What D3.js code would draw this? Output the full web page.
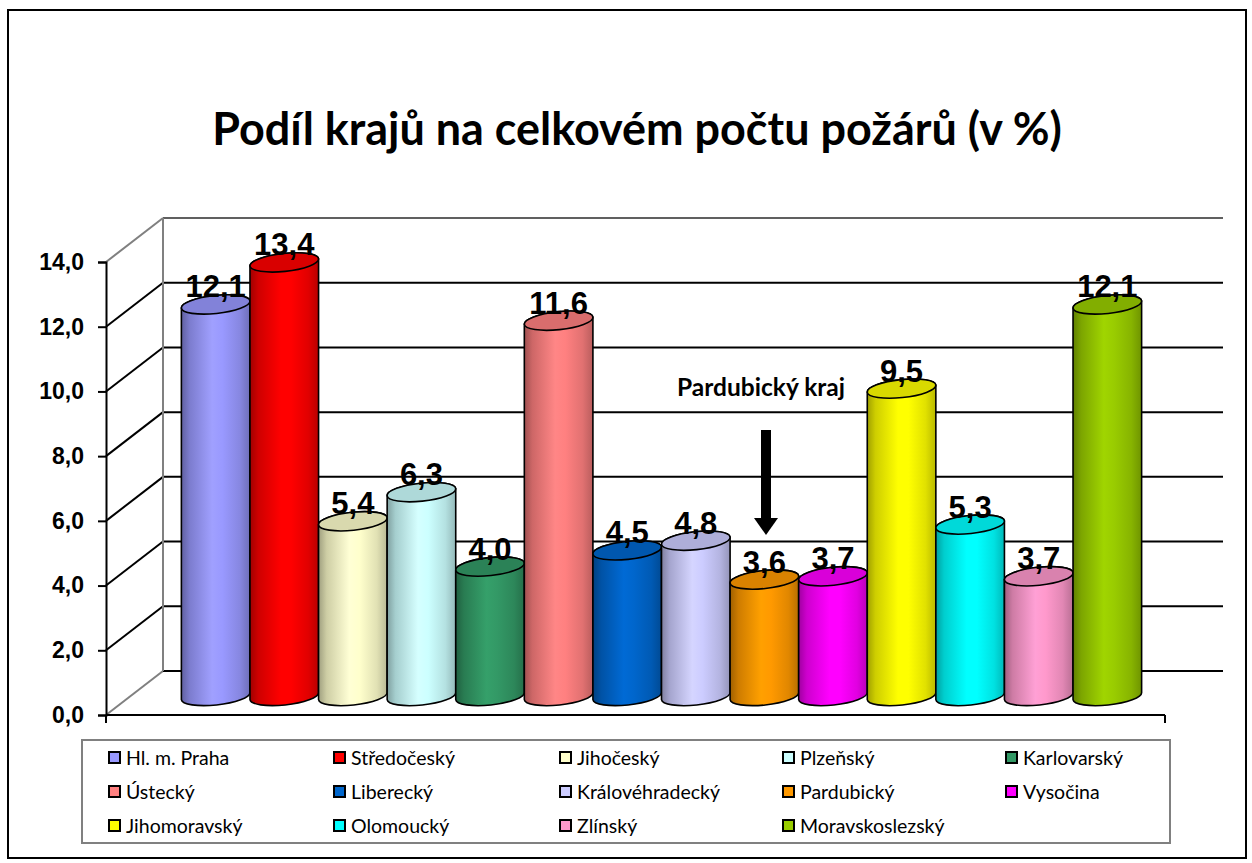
<!DOCTYPE html>
<html>
<head>
<meta charset="utf-8">
<script src="https://cdn.jsdelivr.net/npm/d3@7"></script>
<style>
  html, body { margin: 0; padding: 0; background: #fff; }
  svg { display: block; }
</style>
</head>
<body>
<svg id="chart" width="1252" height="863"></svg>
<script>
// ---- data ----
const categories = ["Hl. m. Praha", "Středočeský", "Jihočeský", "Plzeňský", "Karlovarský",
  "Ústecký", "Liberecký", "Královéhradecký", "Pardubický", "Vysočina",
  "Jihomoravský", "Olomoucký", "Zlínský", "Moravskoslezský"];
const values = [12.1, 13.4, 5.4, 6.3, 4.0, 11.6, 4.5, 4.8, 3.6, 3.7, 9.5, 5.3, 3.7, 12.1];
const colors = ["#9999FF", "#FF0000", "#FFFFCC", "#CCFFFF", "#339966",
  "#FF8080", "#0066CC", "#CCCCFF", "#FF9900", "#FF00FF",
  "#FFFF00", "#00FFFF", "#FF99CC", "#99CC00"];
const yTicks = [0, 2, 4, 6, 8, 10, 12, 14];
const titleText = "Podíl krajů na celkovém počtu požárů (v %)";
const annotationText = "Pardubický kraj";

// ---- layout ----
const svg = d3.select("#chart");
const W = 1252, H = 863;
svg.append("rect").attr("x", 0).attr("y", 0).attr("width", W).attr("height", H).attr("fill", "#fff");
svg.append("rect").attr("x", 8).attr("y", 10).attr("width", 1238).attr("height", 848)
  .attr("fill", "none").attr("stroke", "#000").attr("stroke-width", 2);

const frontX0 = 106, frontX1 = 1165;
const DX = 57, DY = -44;          // depth offset to back wall
const barDX = 26, barDY = -19;    // depth offset of the bar row
const y = d3.scaleLinear().domain([0, 14]).range([715, 262]);
const x = d3.scaleBand().domain(categories)
  .range([frontX0 + barDX, frontX1 + barDX]).paddingOuter(0.72).paddingInner(0);

const fmt = d => d.toFixed(1).replace(".", ",");

// title
const title = svg.append("text").attr("x", 637).attr("y", 145)
  .attr("text-anchor", "middle").attr("font-family", "Lato, 'Open Sans', sans-serif")
  .attr("font-weight", 700).attr("font-size", 44).attr("fill", "#000").text(titleText);
{
  const w = title.node().getComputedTextLength();
  title.attr("font-size", 44 * 850 / w);
}

// walls & gridlines
const g = svg.append("g");
g.selectAll("line.side").data(yTicks).join("line")
  .attr("x1", frontX0).attr("y1", d => y(d))
  .attr("x2", frontX0 + DX).attr("y2", d => y(d) + DY)
  .attr("stroke", d => (d === 0 || d === 14) ? "#808080" : "#000")
  .attr("stroke-width", 2);
g.selectAll("line.back").data(yTicks).join("line")
  .attr("x1", frontX0 + DX).attr("y1", d => y(d) + DY)
  .attr("x2", frontX1 + DX + 1).attr("y2", d => y(d) + DY)
  .attr("stroke", d => d === 14 ? "#606060" : "#000")
  .attr("stroke-width", 2);
g.append("line").attr("x1", frontX0 + DX).attr("x2", frontX0 + DX)
  .attr("y1", y(14) + DY).attr("y2", y(0) + DY)
  .attr("stroke", "#808080").attr("stroke-width", 2);

// front value axis
const yAxis = d3.axisLeft(y).tickValues(yTicks).tickFormat(fmt).tickSize(8).tickPadding(14);
const ya = svg.append("g").attr("transform", `translate(${frontX0},0)`).call(yAxis);
ya.select(".domain").attr("stroke", "#000").attr("stroke-width", 2);
ya.selectAll(".tick line").attr("stroke", "#000").attr("stroke-width", 2);
ya.selectAll(".tick text").attr("font-family", "'Liberation Sans', Arial, sans-serif")
  .attr("font-weight", 700).attr("font-size", 23).attr("fill", "#000");

// front category axis line
svg.append("line").attr("x1", frontX0).attr("x2", frontX1).attr("y1", y(0)).attr("y2", y(0))
  .attr("stroke", "#000").attr("stroke-width", 2);
[frontX0, frontX1].forEach(px => {
  svg.append("line").attr("x1", px).attr("x2", px).attr("y1", y(0)).attr("y2", y(0) + 8)
    .attr("stroke", "#000").attr("stroke-width", 2);
});

// gradients
const defs = svg.append("defs");
colors.forEach((c, i) => {
  const col = d3.color(c);
  const gr = defs.append("linearGradient").attr("id", "grad" + i)
    .attr("x1", 0).attr("x2", 1).attr("y1", 0).attr("y2", 0);
  [[0, col.darker(1.3)], [0.12, col.darker(0.6)], [0.45, col.brighter(0.12)],
   [0.6, col], [0.85, col.darker(0.35)], [1, col.darker(0.9)]].forEach(([o, cc]) => {
    gr.append("stop").attr("offset", o).attr("stop-color", cc.formatHex());
  });
});

// cylinders
const bw = x.bandwidth();
const rot = -6, th = Math.abs(rot) * Math.PI / 180;
const rx = (bw / 2) / Math.cos(th), ry = 9;
const ex = bw / 2, ey = rx * Math.sin(th);
const bars = svg.append("g");
categories.forEach((c, i) => {
  const v = values[i];
  const cx = x(c) + bw / 2;
  const yT = y(v) + barDY, yB = y(0) + barDY;
  const gi = bars.append("g");
  const p = `M${cx - ex},${yT + ey} L${cx - ex},${yB + ey} ` +
    `A${rx},${ry} ${rot} 0 0 ${cx + ex},${yB - ey} L${cx + ex},${yT - ey} ` +
    `A${rx},${ry} ${rot} 0 0 ${cx - ex},${yT + ey} Z`;
  gi.append("path").attr("d", p).attr("fill", `url(#grad${i})`)
    .attr("stroke", "#000").attr("stroke-width", 1.6);
  gi.append("ellipse").attr("cx", cx).attr("cy", yT).attr("rx", rx).attr("ry", ry)
    .attr("transform", `rotate(${rot},${cx},${yT})`)
    .attr("fill", d3.color(colors[i]).darker(0.45).formatHex())
    .attr("stroke", "#000").attr("stroke-width", 1.6);
  gi.append("text").attr("x", cx).attr("y", yT - 7).attr("text-anchor", "middle")
    .attr("font-family", "'Liberation Sans', Arial, sans-serif").attr("font-weight", 700)
    .attr("font-size", 31).attr("fill", "#000").text(fmt(v));
});

// annotation
const ann = svg.append("text").attr("x", 761).attr("y", 396).attr("text-anchor", "middle")
  .attr("font-family", "Lato, 'Open Sans', sans-serif").attr("font-weight", 700)
  .attr("font-size", 21).attr("fill", "#000").text(annotationText);
{
  const w = ann.node().getComputedTextLength();
  ann.attr("font-size", 21 * 168 / w);
}
const ax = 766;
svg.append("rect").attr("x", ax - 5).attr("y", 430).attr("width", 10).attr("height", 92).attr("fill", "#000");
svg.append("path").attr("d", `M${ax - 12},518 L${ax + 12},518 L${ax},535 Z`).attr("fill", "#000");

// legend
const legX = 82, legY = 740, legW = 1088, legH = 103;
svg.append("rect").attr("x", legX).attr("y", legY).attr("width", legW).attr("height", legH)
  .attr("fill", "#fff").attr("stroke", "#808080").attr("stroke-width", 2);
const colX = [109, 334, 560, 783, 1006];
const rowY = [758, 792, 826];
categories.forEach((c, i) => {
  const cxl = colX[i % 5], cyl = rowY[Math.floor(i / 5)];
  svg.append("rect").attr("x", cxl).attr("y", cyl - 6).attr("width", 11).attr("height", 11)
    .attr("fill", colors[i]).attr("stroke", "#000").attr("stroke-width", 2);
  svg.append("text").attr("x", cxl + 17).attr("y", cyl).attr("dy", "0.36em")
    .attr("font-family", "Lato, 'Open Sans', sans-serif").attr("font-size", 19.5)
    .attr("fill", "#000").text(c);
});
</script>
</body>
</html>
